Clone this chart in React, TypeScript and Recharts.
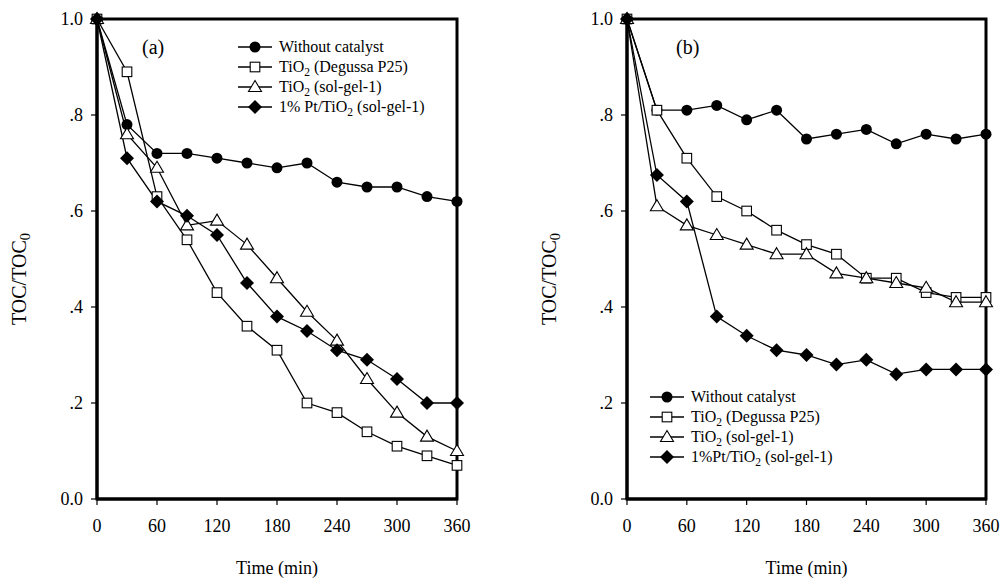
import React from "react";
import { LineChart, Line, XAxis, YAxis, ReferenceArea } from "recharts";

const FONT = '"Liberation Serif", "Times New Roman", serif';

// sampling times (min)
const times = [0, 30, 60, 90, 120, 150, 180, 210, 240, 270, 300, 330, 360];
const xTicks = [0, 60, 120, 180, 240, 300, 360];
const yTicks = [0, 0.2, 0.4, 0.6, 0.8, 1.0];

// panel (a)
const aWithout = [1.0, 0.78, 0.72, 0.72, 0.71, 0.7, 0.69, 0.7, 0.66, 0.65, 0.65, 0.63, 0.62];
const aP25 = [1.0, 0.89, 0.63, 0.54, 0.43, 0.36, 0.31, 0.2, 0.18, 0.14, 0.11, 0.09, 0.07];
const aSolGel = [1.0, 0.76, 0.69, 0.57, 0.58, 0.53, 0.46, 0.39, 0.33, 0.25, 0.18, 0.13, 0.1];
const aPt = [1.0, 0.71, 0.62, 0.59, 0.55, 0.45, 0.38, 0.35, 0.31, 0.29, 0.25, 0.2, 0.2];

// panel (b)
const bWithout = [1.0, 0.81, 0.81, 0.82, 0.79, 0.81, 0.75, 0.76, 0.77, 0.74, 0.76, 0.75, 0.76];
const bP25 = [1.0, 0.81, 0.71, 0.63, 0.6, 0.56, 0.53, 0.51, 0.46, 0.46, 0.43, 0.42, 0.42];
const bSolGel = [1.0, 0.61, 0.57, 0.55, 0.53, 0.51, 0.51, 0.47, 0.46, 0.45, 0.44, 0.41, 0.41];
const bPt = [1.0, 0.675, 0.62, 0.38, 0.34, 0.31, 0.3, 0.28, 0.29, 0.26, 0.27, 0.27, 0.27];

const markers = ["circle", "square", "triangle", "diamond"];

// legend labels: odd parts are subscripts
const labelsA = [
  ["Without catalyst"],
  ["TiO", "2", " (Degussa P25)"],
  ["TiO", "2", " (sol-gel-1)"],
  ["1% Pt/TiO", "2", " (sol-gel-1)"],
];
const labelsB = [
  ["Without catalyst"],
  ["TiO", "2", " (Degussa P25)"],
  ["TiO", "2", " (sol-gel-1)"],
  ["1%Pt/TiO", "2", " (sol-gel-1)"],
];

function Marker({ kind, cx, cy }: { kind: string; cx: number; cy: number }) {
  if (kind === "circle") return <circle cx={cx} cy={cy} r={5.5} fill="#000" />;
  if (kind === "square")
    return <rect x={cx - 4.8} y={cy - 4.8} width={9.6} height={9.6} fill="#fff" stroke="#000" strokeWidth={1.1} />;
  if (kind === "triangle")
    return (
      <polygon
        points={`${cx},${cy - 6.5} ${cx + 6.5},${cy + 4.5} ${cx - 6.5},${cy + 4.5}`}
        fill="#fff"
        stroke="#000"
        strokeWidth={1.1}
      />
    );
  return <polygon points={`${cx},${cy - 7} ${cx + 7},${cy} ${cx},${cy + 7} ${cx - 7},${cy}`} fill="#000" />;
}

function fmtY(v: number) {
  if (v === 0) return "0.0";
  if (v === 1) return "1.0";
  return v.toFixed(1).replace(/^0/, "");
}

function Label({ parts, size }: { parts: string[]; size: number }) {
  return (
    <span>
      {parts.map((p, i) =>
        i % 2 === 1 ? (
          <span key={i} style={{ fontSize: size * 0.72, lineHeight: 1, position: "relative", top: size * 0.22 }}>
            {p}
          </span>
        ) : (
          <span key={i}>{p}</span>
        )
      )}
    </span>
  );
}

function Legend({ x, y, gap, labels }: { x: number; y: number; gap: number; labels: string[][] }) {
  return (
    <div style={{ position: "absolute", left: x, top: y }}>
      {labels.map((parts, i) => (
        <div key={i} style={{ position: "absolute", left: 0, top: i * gap - 9, height: 18, display: "flex", alignItems: "center", whiteSpace: "nowrap" }}>
          <svg width={36} height={18} style={{ display: "block" }}>
            <line x1={1} y1={9} x2={35} y2={9} stroke="#000" strokeWidth={1.3} />
            <Marker kind={markers[i]} cx={18} cy={9} />
          </svg>
          <span style={{ marginLeft: 6, fontSize: 16, lineHeight: "18px" }}>
            <Label parts={parts} size={16} />
          </span>
        </div>
      ))}
    </div>
  );
}

function Panel({
  left,
  width,
  plotLeft,
  plotRight,
  series,
}: {
  left: number;
  width: number;
  plotLeft: number;
  plotRight: number;
  series: number[][];
}) {
  const rows = times.map((t, i) => ({ t, s0: series[0][i], s1: series[1][i], s2: series[2][i], s3: series[3][i] }));
  const axisW = 60;
  return (
    <div style={{ position: "absolute", left, top: 0 }}>
      <LineChart
        width={width}
        height={583}
        data={rows}
        margin={{ top: 19, right: left + width - plotRight, bottom: 44, left: plotLeft - left - axisW }}
      >
        <XAxis
          dataKey="t"
          type="number"
          domain={[0, 360]}
          ticks={xTicks}
          height={40}
          tickSize={6}
          tickMargin={14}
          axisLine={{ stroke: "#000", strokeWidth: 3 }}
          tickLine={{ stroke: "#000", strokeWidth: 1.2 }}
          tick={{ fill: "#000", fontSize: 18, fontFamily: FONT }}
          interval={0}
        />
        <YAxis
          type="number"
          domain={[0, 1]}
          ticks={yTicks}
          width={axisW}
          tickSize={6}
          tickMargin={8}
          tickFormatter={fmtY}
          axisLine={{ stroke: "#000", strokeWidth: 3 }}
          tickLine={{ stroke: "#000", strokeWidth: 1.2 }}
          tick={{ fill: "#000", fontSize: 18, fontFamily: FONT }}
          interval={0}
        />
        <ReferenceArea x1={0} x2={360} y1={0} y2={1} fill="none" stroke="#000" strokeWidth={3} ifOverflow="visible" />
        {markers.map((kind, k) => (
          <Line
            key={kind}
            dataKey={`s${k}`}
            stroke="#000"
            strokeWidth={1.3}
            isAnimationActive={false}
            dot={(p: any) => <Marker key={`${kind}-${p.index}`} kind={kind} cx={p.cx} cy={p.cy} />}
            activeDot={false}
          />
        ))}
      </LineChart>
    </div>
  );
}

function AxisTitles({ plotLeft, plotRight, yLabelX }: { plotLeft: number; plotRight: number; yLabelX: number }) {
  return (
    <>
      <div
        style={{
          position: "absolute",
          left: (plotLeft + plotRight) / 2 - 100,
          width: 200,
          top: 557,
          textAlign: "center",
          fontSize: 18,
          lineHeight: "22px",
        }}
      >
        Time (min)
      </div>
      <div
        style={{
          position: "absolute",
          left: yLabelX - 100,
          top: 279 - 11,
          width: 200,
          height: 22,
          textAlign: "center",
          fontSize: 20,
          lineHeight: "22px",
          transform: "rotate(-90deg)",
        }}
      >
        <Label parts={["TOC/TOC", "0"]} size={20} />
      </div>
    </>
  );
}

export default function App() {
  return (
    <div
      style={{
        position: "absolute",
        left: 0,
        top: 0,
        width: 1002,
        height: 583,
        background: "#fff",
        fontFamily: FONT,
        color: "#000",
        overflow: "hidden",
      }}
    >
      <Panel left={0} width={501} plotLeft={97} plotRight={457} series={[aWithout, aP25, aSolGel, aPt]} />
      <Panel left={501} width={501} plotLeft={627} plotRight={986} series={[bWithout, bP25, bSolGel, bPt]} />
      <AxisTitles plotLeft={97} plotRight={457} yLabelX={19} />
      <AxisTitles plotLeft={627} plotRight={986} yLabelX={549} />
      <div style={{ position: "absolute", left: 142, top: 35, fontSize: 20, lineHeight: "24px" }}>(a)</div>
      <div style={{ position: "absolute", left: 676, top: 35, fontSize: 20, lineHeight: "24px" }}>(b)</div>
      <Legend x={237} y={47} gap={20} labels={labelsA} />
      <Legend x={649} y={397} gap={20} labels={labelsB} />
    </div>
  );
}
